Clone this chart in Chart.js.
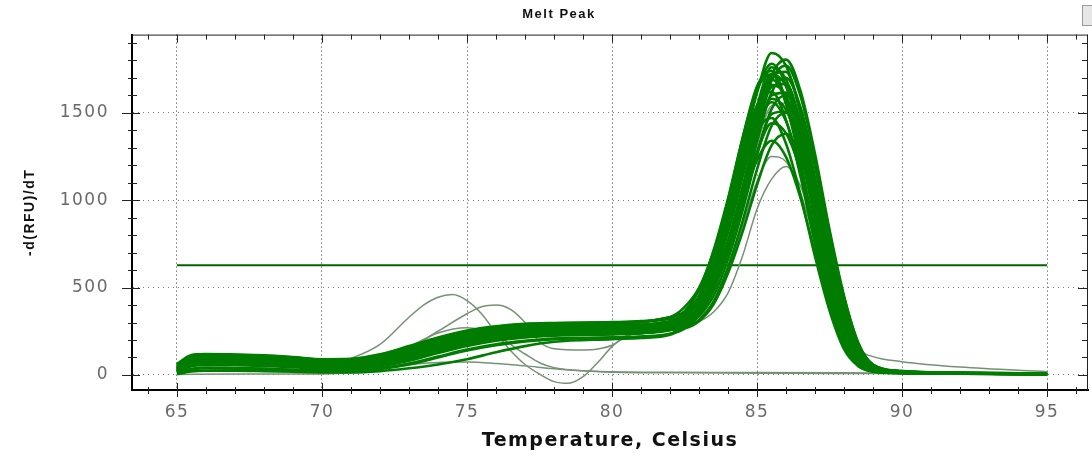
<!DOCTYPE html>
<html>
<head>
<meta charset="utf-8">
<title>Melt Peak</title>
<script src="https://cdn.jsdelivr.net/npm/chart.js@4.4.0/dist/chart.umd.min.js"></script>
<style>
    html, body { margin: 0; padding: 0; background: #fff; }
    #wrap { width: 1092px; height: 457px; position: relative; }
</style>
</head>
<body>
<div id="wrap"><canvas id="meltChart" width="1092" height="457"></canvas></div>
<script>
// Temperature grid shared by the regular wells (Celsius)
const temps = [65, 65.5, 66, 67, 68, 69, 70, 71, 72, 73, 74, 75, 76, 77, 78, 80, 81, 82,
    82.5, 83, 83.5, 84, 84.5, 85, 85.5, 86, 86.5, 87, 87.5, 88, 88.5, 89, 90, 92, 95];

// -d(RFU)/dT per well
const well01 = [60, 110, 118, 115, 110, 100, 88, 90, 115, 160, 210, 250, 275, 290, 295, 300, 305, 330, 363, 451, 632, 920, 1267, 1615, 1842, 1768, 1492, 1068, 645, 304, 107, 37, 18, 11, 7];
const well02 = [45, 95, 100, 98, 95, 85, 70, 72, 95, 140, 190, 230, 255, 268, 275, 280, 285, 305, 317, 372, 500, 740, 1055, 1414, 1714, 1804, 1624, 1263, 830, 451, 180, 60, 22, 12, 8];
const well03 = [30, 75, 82, 80, 76, 66, 52, 52, 72, 110, 160, 200, 230, 245, 252, 258, 262, 280, 330, 438, 648, 948, 1300, 1623, 1780, 1655, 1344, 926, 534, 235, 80, 28, 14, 9, 5];
const well04 = [55, 105, 112, 110, 104, 95, 82, 85, 110, 152, 200, 240, 268, 284, 290, 296, 302, 330, 351, 419, 566, 816, 1131, 1467, 1717, 1734, 1505, 1126, 713, 364, 141, 48, 20, 12, 8];
const well05 = [20, 55, 62, 60, 56, 48, 38, 36, 52, 85, 130, 170, 200, 218, 228, 235, 240, 258, 325, 451, 688, 999, 1355, 1651, 1740, 1566, 1218, 800, 435, 174, 57, 23, 12, 8, 5];
const well06 = [35, 80, 88, 85, 80, 70, 56, 55, 75, 115, 165, 205, 235, 248, 255, 262, 266, 280, 312, 395, 568, 842, 1173, 1504, 1720, 1651, 1393, 998, 602, 284, 100, 34, 16, 10, 6];
const well07 = [50, 98, 104, 100, 96, 88, 74, 76, 100, 145, 195, 235, 258, 270, 278, 284, 288, 305, 316, 368, 486, 710, 1003, 1337, 1616, 1700, 1530, 1190, 782, 425, 170, 56, 22, 12, 8];
const well08 = [8, 30, 38, 36, 33, 28, 22, 22, 35, 60, 100, 140, 170, 192, 205, 212, 218, 235, 283, 388, 591, 882, 1224, 1537, 1690, 1572, 1276, 879, 507, 223, 76, 27, 12, 8, 4];
const well09 = [42, 92, 98, 96, 92, 83, 68, 70, 92, 138, 188, 228, 252, 266, 273, 279, 284, 305, 335, 413, 576, 833, 1145, 1457, 1660, 1594, 1345, 963, 581, 274, 96, 33, 16, 10, 6];
const well10 = [25, 60, 68, 65, 60, 52, 42, 40, 56, 90, 135, 175, 205, 222, 230, 236, 242, 258, 279, 344, 486, 728, 1032, 1357, 1599, 1615, 1402, 1050, 664, 339, 131, 44, 18, 10, 6];
const well11 = [64, 114, 120, 117, 112, 102, 90, 92, 118, 165, 214, 254, 278, 292, 297, 302, 308, 330, 388, 498, 704, 975, 1285, 1543, 1620, 1458, 1134, 745, 405, 162, 53, 21, 12, 8, 5];
const well12 = [27, 70, 78, 77, 73, 63, 50, 50, 70, 108, 158, 198, 228, 244, 251, 257, 262, 280, 291, 339, 452, 663, 940, 1257, 1521, 1600, 1440, 1120, 736, 400, 160, 53, 20, 11, 7];
const well13 = [12, 35, 42, 40, 36, 30, 25, 24, 38, 65, 105, 145, 175, 195, 208, 215, 220, 235, 265, 343, 504, 760, 1069, 1378, 1580, 1517, 1280, 916, 553, 261, 92, 32, 15, 9, 5];
const well14 = [40, 90, 96, 94, 90, 80, 66, 68, 90, 135, 185, 225, 250, 264, 272, 278, 284, 305, 346, 437, 612, 863, 1158, 1428, 1560, 1451, 1178, 811, 468, 206, 70, 25, 13, 8, 5];
const well15 = [28, 72, 78, 76, 72, 62, 48, 48, 68, 105, 155, 195, 226, 242, 250, 256, 260, 280, 299, 358, 486, 705, 980, 1274, 1493, 1507, 1308, 979, 620, 317, 122, 41, 17, 10, 6];
const well16 = [22, 57, 64, 62, 58, 50, 40, 38, 54, 88, 133, 172, 202, 220, 229, 236, 241, 258, 268, 314, 419, 618, 879, 1177, 1425, 1500, 1350, 1050, 690, 375, 150, 50, 20, 11, 7];
const well17 = [5, 20, 25, 25, 22, 18, 15, 15, 22, 38, 60, 90, 130, 165, 190, 205, 212, 230, 286, 391, 590, 850, 1148, 1396, 1470, 1323, 1029, 676, 368, 147, 49, 19, 10, 7, 4];
const well18 = [50, 100, 108, 106, 100, 92, 80, 82, 106, 150, 198, 240, 266, 282, 290, 296, 302, 330, 354, 419, 552, 763, 1018, 1274, 1440, 1382, 1166, 835, 504, 238, 84, 29, 15, 9, 6];
const well19 = [18, 50, 58, 56, 52, 45, 35, 34, 50, 82, 126, 166, 196, 215, 225, 232, 238, 258, 267, 308, 404, 583, 819, 1088, 1313, 1380, 1242, 966, 635, 345, 138, 46, 18, 10, 6];
const well20 = [32, 78, 85, 82, 78, 68, 54, 54, 74, 112, 162, 202, 232, 246, 254, 260, 264, 280, 315, 391, 540, 752, 1001, 1229, 1340, 1246, 1012, 697, 402, 177, 60, 21, 11, 7, 4];
const well21 = [38, 86, 94, 92, 88, 78, 64, 64, 86, 128, 178, 220, 246, 260, 268, 274, 280, 300, 364, 485, 712, 1010, 1351, 1635, 1720, 1548, 1204, 791, 430, 172, 57, 22, 12, 8, 5];
const well22 = [24, 66, 72, 70, 66, 57, 45, 44, 62, 98, 146, 186, 216, 232, 240, 248, 252, 265, 298, 385, 564, 848, 1192, 1536, 1760, 1690, 1426, 1021, 616, 290, 102, 35, 16, 10, 6];
const well23 = [36, 84, 90, 88, 84, 75, 60, 60, 80, 122, 172, 212, 240, 255, 262, 268, 274, 290, 311, 377, 521, 766, 1074, 1403, 1648, 1665, 1445, 1082, 684, 350, 135, 46, 18, 10, 6];
const well24 = [58, 106, 114, 112, 106, 96, 84, 86, 112, 156, 205, 244, 270, 286, 292, 298, 304, 320, 332, 385, 509, 741, 1045, 1393, 1683, 1770, 1593, 1239, 814, 443, 177, 58, 21, 12, 8];
const wellTail = [34, 78, 84, 82, 78, 68, 54, 53, 73, 112, 162, 202, 232, 246, 254, 260, 264, 280, 300, 361, 495, 722, 1008, 1314, 1541, 1556, 1351, 1011, 640, 340, 150, 105, 76, 45, 19];

// Odd wells with a low-temperature peak (own temperature points)
const tempsA = [65, 65.5, 66, 67, 68, 69, 70, 71, 72, 73, 73.5, 74, 74.5, 75, 75.5, 76, 76.5, 77, 77.5, 78, 78.5, 79, 79.5, 80, 80.5, 81, 82, 82.5, 83, 83.5, 84, 84.5, 85, 85.5, 86, 86.5, 87, 87.5, 88, 88.5, 89, 90, 92, 95];
const wellA = [25, 62, 70, 68, 64, 56, 50, 95, 175, 330, 400, 445, 460, 425, 350, 240, 140, 60, 5, -38, -48, -10, 70, 162, 225, 255, 272, 282, 305, 360, 470, 680, 950, 1120, 1193, 1080, 830, 540, 290, 115, 40, 15, 9, 5];
const tempsB = [65, 65.5, 66, 67, 68, 69, 70, 71, 72, 73, 74, 75, 75.5, 76, 76.5, 77, 77.5, 78, 79, 79.5, 80, 80.5, 81, 82, 82.5, 83, 83.5, 84, 84.5, 85, 85.5, 86, 86.5, 87, 87.5, 88, 88.5, 89, 90, 92, 95];
const wellB = [30, 70, 76, 74, 70, 60, 48, 50, 80, 150, 250, 350, 390, 400, 375, 300, 190, 150, 143, 148, 170, 220, 250, 275, 290, 330, 420, 590, 850, 1110, 1250, 1220, 1040, 770, 480, 240, 90, 32, 14, 8, 5];
const tempsC = [65, 66, 67, 68, 69, 70, 71, 72, 73, 74, 75, 76, 77, 77.5, 78, 79, 80, 82, 85, 88, 90, 95];
const wellC = [15, 40, 40, 38, 32, 28, 40, 80, 160, 240, 270, 225, 120, 70, 42, 24, 18, 15, 14, 12, 10, 8];
const tempsD = [65, 67, 70, 71, 72, 73, 74, 75, 76, 77, 78, 79, 80, 83, 86, 89, 92, 95];
const wellD = [3, 5, 6, 12, 30, 58, 72, 74, 66, 52, 36, 24, 16, 12, 10, 8, 6, 4];

// Threshold line
const thresholdTemps = [65, 95];
const thresholdLevel = 628;

const xTicks = [65, 70, 75, 80, 85, 90, 95];
const yTicks = [0, 500, 1000, 1500];

const mainWells = [well01, well02, well03, well04, well05, well06, well07, well08, well09, well10,
    well11, well12, well13, well14, well15, well16, well17, well18, well19, well20,
    well21, well22, well23, well24];

const GREEN = 'rgb(0,125,0)';
const GREY_GREEN = 'rgb(118,145,118)';

function toPoints(xs, ys) {
    return xs.map((t, i) => ({ x: t, y: ys[i] }));
}

function lineSet(xs, ys, color, width) {
    return {
        data: toPoints(xs, ys),
        borderColor: color,
        borderWidth: width,
        pointRadius: 0,
        cubicInterpolationMode: 'monotone',
        fill: false
    };
}

const datasets = [
    ...mainWells.map(w => lineSet(temps, w, GREEN, 2.6)),
    lineSet(temps, wellTail, GREY_GREEN, 1.5),
    lineSet(tempsA, wellA, GREY_GREEN, 1.5),
    lineSet(tempsB, wellB, GREY_GREEN, 1.5),
    lineSet(tempsC, wellC, GREY_GREEN, 1.5),
    lineSet(tempsD, wellD, GREY_GREEN, 1.5),
    {
        data: thresholdTemps.map(t => ({ x: t, y: thresholdLevel })),
        borderColor: 'rgb(0,100,0)',
        borderWidth: 2,
        pointRadius: 0,
        tension: 0
    }
];

// frame, inner ticks and minor ticks drawn from the scales
const frameTicks = {
    id: 'frameTicks',
    beforeDraw(chart) {
        chart.ctx.letterSpacing = '1.5px';
    },
    afterDraw(chart) {
        const { ctx, chartArea: a, scales: { x, y } } = chart;
        ctx.save();
        ctx.letterSpacing = '0px';
        ctx.strokeStyle = '#222';
        ctx.lineWidth = 1;
        ctx.beginPath();
        ctx.moveTo(a.left, a.top + 0.5);
        ctx.lineTo(a.right, a.top + 0.5);
        ctx.moveTo(a.right - 0.5, a.top);
        ctx.lineTo(a.right - 0.5, a.bottom);
        for (let t = Math.ceil(x.min); t <= x.max; t++) {
            const px = Math.round(x.getPixelForValue(t)) + 0.5;
            const major = t % 5 === 0;
            ctx.moveTo(px, a.bottom - (major ? 7 : 3));
            ctx.lineTo(px, a.bottom + (major ? 7 : 4));
            ctx.moveTo(px, a.top);
            ctx.lineTo(px, a.top + (major ? 8 : 5));
        }
        for (let v = 0; v <= y.max; v += 100) {
            const py = Math.round(y.getPixelForValue(v)) + 0.5;
            const major = v % 500 === 0;
            ctx.moveTo(a.left - (major ? 10 : 4), py);
            ctx.lineTo(a.left + (major ? 8 : 5), py);
            ctx.moveTo(a.right, py);
            ctx.lineTo(a.right - (major ? 10 : 6), py);
        }
        ctx.stroke();
        // small window button in the corner
        ctx.fillStyle = '#e6e6e6';
        ctx.strokeStyle = '#9a9a9a';
        ctx.fillRect(1082, 5, 10, 20);
        ctx.strokeRect(1082.5, 5.5, 10, 20);
        ctx.restore();
    }
};

const tickFont = { family: 'DejaVu Sans', size: 17 };

new Chart(document.getElementById('meltChart'), {
    type: 'line',
    data: { datasets },
    plugins: [frameTicks],
    options: {
        responsive: false,
        animation: false,
        events: [],
        layout: { padding: { left: 30, right: 4, top: 0, bottom: 0 } },
        plugins: {
            legend: { display: false },
            tooltip: { enabled: false },
            title: {
                display: true,
                text: 'Melt Peak',
                color: '#111',
                font: { family: 'Liberation Sans', size: 13, weight: 'bold' },
                padding: { top: 7, bottom: 12 }
            }
        },
        scales: {
            x: {
                type: 'linear',
                min: 63.45,
                max: 96.41,
                afterBuildTicks: s => { s.ticks = xTicks.map(v => ({ value: v })); },
                afterFit: s => { s.height = 67; },
                grid: { color: '#3a3a3a', lineWidth: 1, drawTicks: false },
                border: { display: true, color: '#000', width: 2, dash: [1, 3] },
                ticks: {
                    padding: 12,
                    color: '#6a6a6a',
                    font: tickFont,
                    maxRotation: 0,
                    autoSkip: false,
                    callback: v => String(v)
                },
                title: {
                    display: true,
                    text: 'Temperature, Celsius',
                    color: '#111',
                    font: { family: 'DejaVu Sans', size: 19, weight: 'bold' },
                    padding: { top: 0, bottom: 5 }
                }
            },
            y: {
                type: 'linear',
                min: -86,
                max: 1947,
                afterBuildTicks: s => { s.ticks = yTicks.map(v => ({ value: v })); },
                afterFit: s => { s.width = 102; },
                grid: { color: '#7a7a7a', lineWidth: 1, drawTicks: false },
                border: { display: true, color: '#000', width: 2, dash: [1, 4] },
                ticks: {
                    padding: 23,
                    color: '#6a6a6a',
                    font: tickFont,
                    callback: v => String(v)
                },
                title: {
                    display: true,
                    text: '-d(RFU)/dT',
                    color: '#111',
                    font: { family: 'Liberation Sans', size: 14, weight: 'bold' },
                    padding: { top: -8, bottom: 0 }
                }
            }
        }
    }
});
</script>
</body>
</html>
